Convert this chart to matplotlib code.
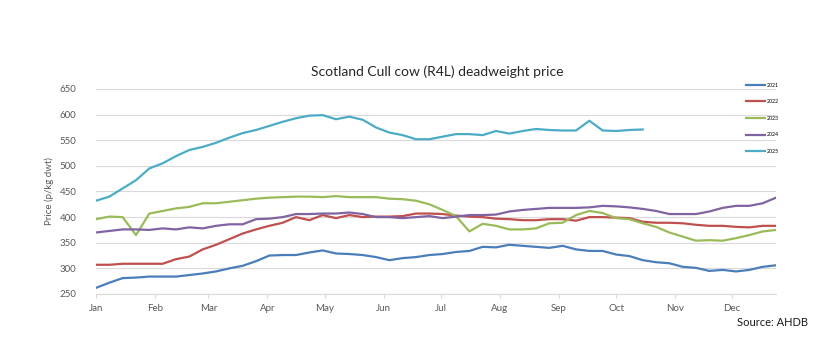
import numpy as np
import matplotlib
matplotlib.use("Agg")
import matplotlib.pyplot as plt

plt.rcParams['font.family'] = ['Lato', 'DejaVu Sans']

# weekly prices (p/kg dwt), week 1..52
y2021 = [262, 272, 281, 282, 284, 284, 284, 287, 290, 294, 300, 305, 314, 325, 326, 326,
         331, 335, 329, 328, 326, 322, 316, 320, 322, 326, 328, 332, 334, 342, 341, 346,
         344, 342, 340, 344, 337, 334, 334, 327, 324, 316, 312, 310, 303, 301, 295, 297,
         294, 297, 303, 306]
y2022 = [307, 307, 309, 309, 309, 309, 318, 323, 337, 346, 357, 368, 376, 383, 389, 400,
         394, 404, 398, 404, 400, 401, 401, 402, 407, 407, 406, 403, 401, 400, 397, 396,
         394, 394, 396, 396, 393, 400, 400, 399, 398, 391, 389, 389, 388, 385, 383, 383,
         381, 380, 383, 383]
y2023 = [396, 401, 400, 365, 407, 412, 417, 420, 427, 427, 430, 433, 436, 438, 439, 440,
         440, 439, 441, 439, 439, 439, 436, 435, 432, 425, 414, 402, 372, 387, 383, 376,
         376, 378, 388, 389, 404, 412, 408, 398, 396, 388, 381, 370, 362, 354, 355, 354,
         359, 365, 372, 375]
y2024 = [370, 373, 376, 376, 375, 378, 376, 380, 378, 383, 386, 386, 396, 397, 400, 406,
         406, 407, 407, 409, 406, 400, 400, 398, 400, 402, 398, 401, 404, 404, 405, 411,
         414, 416, 418, 418, 418, 419, 422, 421, 419, 416, 412, 406, 406, 406, 411, 418,
         422, 422, 427, 438]
y2025 = [432, 440, 456, 472, 495, 505, 519, 531, 537, 545, 555, 564, 570, 578, 586, 593,
         598, 599, 591, 596, 590, 575, 565, 560, 552, 552, 557, 562, 562, 560, 568, 563,
         568, 572, 570, 569, 569, 588, 569, 568, 570, 571]

series = {'2021': y2021, '2022': y2022, '2023': y2023, '2024': y2024, '2025': y2025}
colors = {'2021': '#4A7EBB', '2022': '#C0504D', '2023': '#9BBB59',
          '2024': '#8064A2', '2025': '#4BACC6'}

months = ['Jan', 'Feb', 'Mar', 'Apr', 'May', 'Jun', 'Jul', 'Aug', 'Sep', 'Oct', 'Nov', 'Dec']
month_start_days = [0, 31, 59, 90, 120, 151, 181, 212, 243, 273, 304, 334]

fig = plt.figure(figsize=(8.29, 3.58), dpi=100)
ax = fig.add_axes([0.1158, 0.1788, 0.8203, 0.5726])

for name, vals in series.items():
    ax.plot(np.arange(len(vals)), vals, color=colors[name], lw=1.6, label=name)

ax.set_xlim(0, 51)
ax.set_ylim(250, 650)
ax.set_yticks(range(250, 651, 50))
ax.set_xticks([d / 7 for d in month_start_days])
ax.set_xticklabels(months)
ax.grid(axis='y', color='#D9D9D9', lw=0.8)
ax.set_axisbelow(True)
for s in ['top', 'right', 'left']:
    ax.spines[s].set_visible(False)
ax.spines['bottom'].set_color('#D9D9D9')
ax.tick_params(axis='y', length=0, labelsize=7, colors='#595959', pad=14)
ax.tick_params(axis='x', length=3, color='#D9D9D9', labelsize=7, labelcolor='#595959', pad=4)
ax.set_ylabel('Price (p/kg dwt)', fontsize=7, color='#595959', labelpad=4)

fig.text(0.527, 0.80, 'Scotland Cull cow (R4L) deadweight price', ha='center',
         va='center', fontsize=10, color='#262626')
fig.text(0.975, 0.098, 'Source: AHDB', ha='right', va='center', fontsize=8, color='#1a1a1a')

fig.legend(loc='upper left', bbox_to_anchor=(0.897, 0.775), frameon=False, fontsize=3.8,
           handlelength=3.6, labelspacing=2.2, handletextpad=0.4, borderaxespad=0)

fig.savefig('out.png', dpi=100)
